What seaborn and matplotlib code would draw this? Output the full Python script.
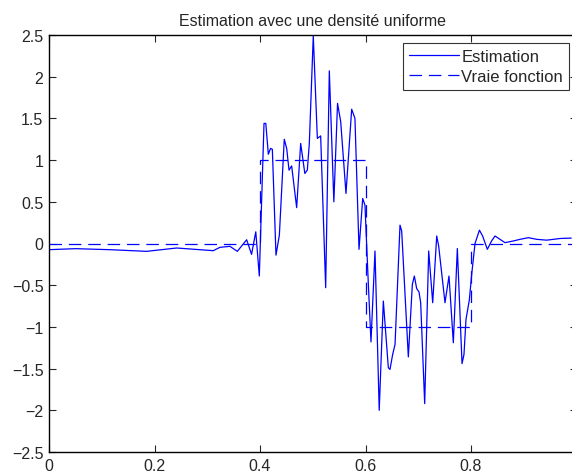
import seaborn as sns
import matplotlib.pyplot as plt
import numpy as np

# Estimation curve
est_x = [0.0, 0.05, 0.115, 0.185, 0.242, 0.3115, 0.324, 0.343, 0.357, 0.3747,
         0.384, 0.392, 0.3987, 0.4076, 0.411, 0.4158, 0.420, 0.4234, 0.4303, 0.4367,
         0.446, 0.4506, 0.455, 0.460, 0.4695, 0.4771, 0.485, 0.4897, 0.4935, 0.501,
         0.5087, 0.515, 0.5245, 0.5314, 0.540, 0.547, 0.553, 0.563, 0.5738, 0.580,
         0.5877, 0.5947, 0.599, 0.6054, 0.6104, 0.618, 0.626, 0.6338, 0.6433, 0.6464,
         0.6515, 0.656, 0.6654, 0.6686, 0.6812, 0.6888, 0.6926, 0.697, 0.7014, 0.7046,
         0.7122, 0.7198, 0.7274, 0.735, 0.7387, 0.7507, 0.7583, 0.7665, 0.7741, 0.783,
         0.7867, 0.7905, 0.7968, 0.8013, 0.8076, 0.816, 0.822, 0.831, 0.839, 0.8455,
         0.855, 0.8645, 0.880, 0.893, 0.9087, 0.9245, 0.9435, 0.969, 0.99]
est_y = [-0.074, -0.062, -0.074, -0.094, -0.054, -0.086, -0.046, -0.034, -0.094, 0.045,
         -0.13, 0.14, -0.39, 1.44, 1.44, 1.07, 1.14, 1.13, -0.14, 0.10,
         1.25, 1.14, 0.88, 0.93, 0.43, 1.20, 0.84, 0.88, 1.20, 2.49,
         1.26, 1.29, -0.53, 2.07, 0.50, 1.68, 1.46, 0.60, 1.61, 1.50,
         -0.07, 0.54, 0.46, -0.49, -1.18, -0.09, -2.0, -0.69, -1.49, -1.51,
         -1.33, -1.21, 0.22, 0.15, -1.36, -0.49, -0.39, -0.54, -0.58, -0.71,
         -1.92, -0.09, -0.71, 0.09, -0.03, -0.71, -0.39, -1.19, -0.06, -1.44,
         -1.33, -0.91, -0.68, -0.37, 0.0, 0.16, 0.09, -0.07, 0.03, 0.09,
         0.05, 0.01, 0.03, 0.05, 0.07, 0.05, 0.04, 0.06, 0.065]

# True function (step)
true_x = [0.0, 0.4, 0.4, 0.6, 0.6, 0.8, 0.8, 0.99]
true_y = [0, 0, 1, 1, -1, -1, 0, 0]

x_ticks = [0, 0.2, 0.4, 0.6, 0.8, 1.0]
x_labels = ['0', '0.2', '0.4', '0.6', '0.8', '']
y_ticks = np.arange(-2.5, 2.51, 0.5)
y_labels = ['\u22122.5', '\u22122', '\u22121.5', '\u22121', '\u22120.5', '0',
            '0.5', '1', '1.5', '2', '2.5']

sns.set_style("ticks")
plt.rcParams['font.family'] = ['Liberation Sans', 'DejaVu Sans']

fig = plt.figure(figsize=(5.72, 4.77), dpi=100)
ax = fig.add_axes([49 / 572, 1 - 453 / 477, 527.5 / 572, 417 / 477])

sns.lineplot(x=est_x, y=est_y, estimator=None, sort=False, color='#0000ff',
             linewidth=0.9, label='Estimation', ax=ax)
sns.lineplot(x=true_x, y=true_y, estimator=None, sort=False, color='#0000ff',
             linewidth=0.9, linestyle=(0, (10, 5.5)), label='Vraie fonction', ax=ax)

ax.set_xlim(0, 1)
ax.set_ylim(-2.5, 2.5)
ax.set_xticks(x_ticks)
ax.set_xticklabels(x_labels)
ax.set_yticks(y_ticks)
ax.set_yticklabels(y_labels)
ax.tick_params(direction='in', top=True, right=True, labelsize=11.5, length=5,
               width=0.8, pad=4)
for s in ax.spines.values():
    s.set_linewidth(1.0)
    s.set_color('black')
ax.set_title('Estimation avec une densité uniforme', fontsize=11.5, pad=7)

leg = ax.legend(loc='upper right', bbox_to_anchor=(569 / 572, 1 - 44 / 477),
                bbox_transform=fig.transFigure, fontsize=12, frameon=True,
                fancybox=False, handlelength=3.0, borderaxespad=0,
                borderpad=0.35, labelspacing=0.3, handletextpad=0.15)
leg.get_frame().set_edgecolor('black')
leg.get_frame().set_linewidth(0.8)

fig.savefig('out.png', dpi=100)
